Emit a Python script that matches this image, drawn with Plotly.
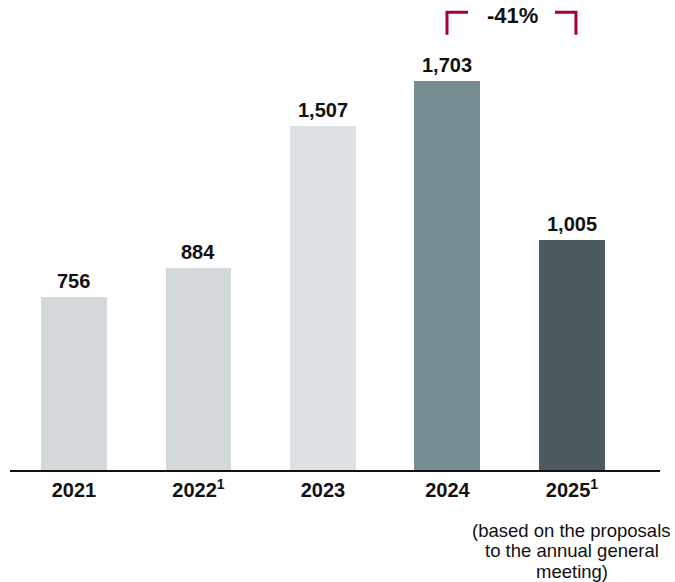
import plotly.graph_objects as go

years = ["2021", "2022<sup>1</sup>", "2023", "2024", "2025<sup>1</sup>"]
values = [756, 884, 1507, 1703, 1005]
labels = ["756", "884", "1,507", "1,703", "1,005"]
colors = ["#d3d8da", "#d3d8da", "#dde1e3", "#778c91", "#4a5a5f"]
change_label = "-41%"
footnote_lines = ["(based on the proposals", "to the annual general", "meeting)"]

FONT = "Liberation Sans, Arial, sans-serif"
xs = list(range(len(years)))

fig = go.Figure()
fig.add_trace(go.Bar(
    x=xs, y=values, width=0.53,
    marker=dict(color=colors, line=dict(width=0)),
    hoverinfo="skip",
))

for x, v, t in zip(xs, values, labels):
    fig.add_annotation(x=x, y=v, text="<b>%s</b>" % t, showarrow=False,
                       yanchor="bottom", yshift=3,
                       font=dict(family=FONT, size=20, color="#111111"))

# bracket between 2024 and 2025
bc = "#a50034"
i0, i1 = 3, 4
fig.add_shape(type="path", xref="x", yref="paper",
              path="M %f 0.926 L %f 0.974 L %f 0.974" % (i0 - 0.004, i0 - 0.004, i0 + 0.165),
              line=dict(color=bc, width=3))
fig.add_shape(type="path", xref="x", yref="paper",
              path="M %f 0.974 L %f 0.974 L %f 0.926" % (i1 - 0.137, i1 + 0.032, i1 + 0.032),
              line=dict(color=bc, width=3))
fig.add_annotation(x=(i0 + i1) / 2 + 0.02, y=0.968, xref="x", yref="paper",
                   text="<b>%s</b>" % change_label, showarrow=False,
                   yanchor="middle", font=dict(family=FONT, size=22, color="#111111"))

for k, line in enumerate(footnote_lines):
    fig.add_annotation(x=4, y=-0.1277 - k * 0.0436, xref="x", yref="paper", text=line,
                       showarrow=False, yanchor="middle", align="center",
                       font=dict(family=FONT, size=18.5, color="#111111"))

fig.update_layout(
    width=675, height=582,
    margin=dict(l=10, r=15, t=0, b=112),
    paper_bgcolor="white", plot_bgcolor="white",
    showlegend=False,
    bargap=0,
    xaxis=dict(range=[-0.514, 4.707], tickmode="array", tickvals=xs, ticktext=["<b>%s</b>" % y for y in years],
               showgrid=False, zeroline=False, showline=True, linecolor="#111111", linewidth=2,
               ticks="outside", ticklen=1, tickcolor="rgba(0,0,0,0)",
               tickfont=dict(family=FONT, size=20, color="#111111")),
    yaxis=dict(range=[0, 2058], visible=False, showgrid=False, zeroline=False),
)

fig.write_html("out.html", config={"displayModeBar": False},
               post_script="document.body.style.margin='0';document.body.style.overflow='hidden';")
